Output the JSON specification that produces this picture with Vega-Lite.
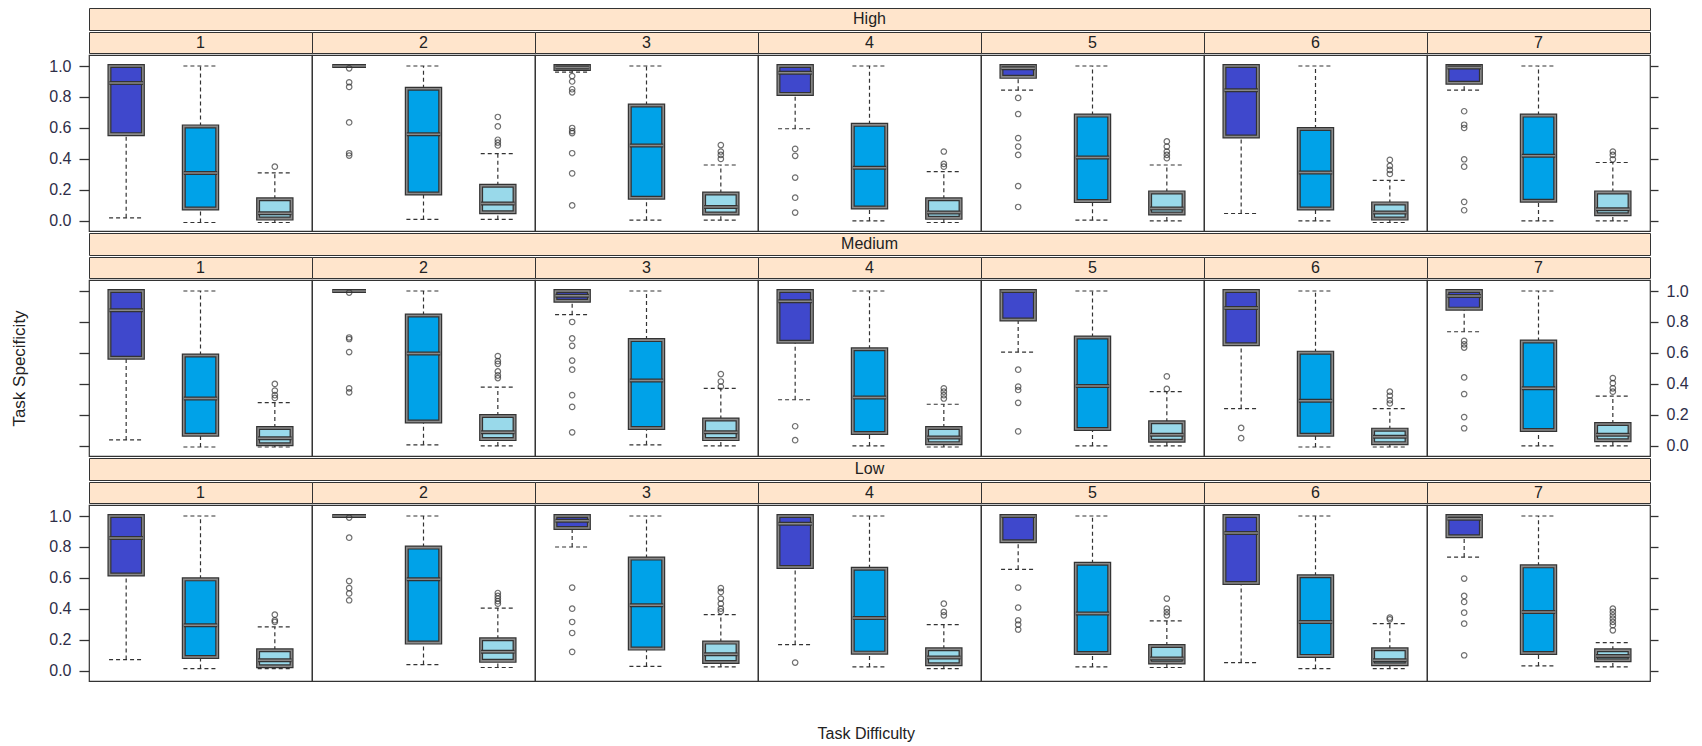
{
"$schema": "https://vega.github.io/schema/vega-lite/v6.json",
"padding": {"left": 10, "top": 7, "right": 0, "bottom": 0},
"spacing": 0,
"title": {"text": "Task Difficulty", "orient": "bottom", "anchor": "middle", "offset": 44, "dx": 17, "fontSize": 16, "font": "Liberation Sans", "fontWeight": "normal", "color": "#222"},
"config": {
  "view": {"stroke": "#333", "strokeWidth": 1.2},
  "axis": {"grid": false, "domain": false, "tickColor": "#333", "tickWidth": 1.3, "tickSize": 10, "labelPadding": 8, "labelFont": "Liberation Sans", "labelFontSize": 16, "labelColor": "#2e2e48", "titleFont": "Liberation Sans", "titleFontSize": 17, "titleFontWeight": "normal", "titleColor": "#222"},
  "text": {"font": "Liberation Sans", "fontSize": 16, "color": "#222"}
},
"datasets": {
  "bx": [
    {"r":"H","d":1,"g":"a","lo":0.02,"q1":0.56,"md":0.89,"q3":1,"hi":1},
    {"r":"H","d":1,"g":"b","lo":-0.01,"q1":0.08,"md":0.31,"q3":0.61,"hi":1},
    {"r":"H","d":1,"g":"c","lo":-0.01,"q1":0.015,"md":0.05,"q3":0.14,"hi":0.31},
    {"r":"H","d":1,"g":"c","o":0.35},
    {"r":"H","d":2,"g":"a","lo":1,"q1":1,"md":1,"q3":1,"hi":1},
    {"r":"H","d":2,"g":"a","o":0.985},{"r":"H","d":2,"g":"a","o":0.895},{"r":"H","d":2,"g":"a","o":0.865},{"r":"H","d":2,"g":"a","o":0.636},{"r":"H","d":2,"g":"a","o":0.437},{"r":"H","d":2,"g":"a","o":0.422},
    {"r":"H","d":2,"g":"b","lo":0.01,"q1":0.177,"md":0.56,"q3":0.853,"hi":1},
    {"r":"H","d":2,"g":"c","lo":0.01,"q1":0.056,"md":0.113,"q3":0.227,"hi":0.435},
    {"r":"H","d":2,"g":"c","o":0.671},{"r":"H","d":2,"g":"c","o":0.61},{"r":"H","d":2,"g":"c","o":0.524},{"r":"H","d":2,"g":"c","o":0.506},{"r":"H","d":2,"g":"c","o":0.487},
    {"r":"H","d":3,"g":"a","lo":0.96,"q1":0.98,"md":0.99,"q3":1,"hi":1},
    {"r":"H","d":3,"g":"a","o":0.935},{"r":"H","d":3,"g":"a","o":0.9},{"r":"H","d":3,"g":"a","o":0.85},{"r":"H","d":3,"g":"a","o":0.83},{"r":"H","d":3,"g":"a","o":0.6},{"r":"H","d":3,"g":"a","o":0.58},{"r":"H","d":3,"g":"a","o":0.567},{"r":"H","d":3,"g":"a","o":0.437},{"r":"H","d":3,"g":"a","o":0.307},{"r":"H","d":3,"g":"a","o":0.1},
    {"r":"H","d":3,"g":"b","lo":0.005,"q1":0.15,"md":0.487,"q3":0.745,"hi":1},
    {"r":"H","d":3,"g":"c","lo":0.005,"q1":0.048,"md":0.09,"q3":0.177,"hi":0.361},
    {"r":"H","d":3,"g":"c","o":0.49},{"r":"H","d":3,"g":"c","o":0.448},{"r":"H","d":3,"g":"c","o":0.426},{"r":"H","d":3,"g":"c","o":0.4},
    {"r":"H","d":4,"g":"a","lo":0.595,"q1":0.82,"md":0.957,"q3":1,"hi":1},
    {"r":"H","d":4,"g":"a","o":0.465},{"r":"H","d":4,"g":"a","o":0.42},{"r":"H","d":4,"g":"a","o":0.28},{"r":"H","d":4,"g":"a","o":0.15},{"r":"H","d":4,"g":"a","o":0.054},
    {"r":"H","d":4,"g":"b","lo":0,"q1":0.087,"md":0.344,"q3":0.62,"hi":1},
    {"r":"H","d":4,"g":"c","lo":-0.01,"q1":0.02,"md":0.054,"q3":0.14,"hi":0.318},
    {"r":"H","d":4,"g":"c","o":0.448},{"r":"H","d":4,"g":"c","o":0.368},{"r":"H","d":4,"g":"c","o":0.35},
    {"r":"H","d":5,"g":"a","lo":0.844,"q1":0.93,"md":0.985,"q3":1,"hi":1},
    {"r":"H","d":5,"g":"a","o":0.794},{"r":"H","d":5,"g":"a","o":0.69},{"r":"H","d":5,"g":"a","o":0.535},{"r":"H","d":5,"g":"a","o":0.48},{"r":"H","d":5,"g":"a","o":0.426},{"r":"H","d":5,"g":"a","o":0.225},{"r":"H","d":5,"g":"a","o":0.09},
    {"r":"H","d":5,"g":"b","lo":0.005,"q1":0.128,"md":0.41,"q3":0.68,"hi":1},
    {"r":"H","d":5,"g":"c","lo":0,"q1":0.048,"md":0.08,"q3":0.184,"hi":0.361},
    {"r":"H","d":5,"g":"c","o":0.513},{"r":"H","d":5,"g":"c","o":0.48},{"r":"H","d":5,"g":"c","o":0.448},{"r":"H","d":5,"g":"c","o":0.426},{"r":"H","d":5,"g":"c","o":0.405},
    {"r":"H","d":6,"g":"a","lo":0.048,"q1":0.545,"md":0.844,"q3":1,"hi":1},
    {"r":"H","d":6,"g":"b","lo":0,"q1":0.08,"md":0.312,"q3":0.593,"hi":1},
    {"r":"H","d":6,"g":"c","lo":-0.01,"q1":0.015,"md":0.054,"q3":0.113,"hi":0.262},
    {"r":"H","d":6,"g":"c","o":0.394},{"r":"H","d":6,"g":"c","o":0.355},{"r":"H","d":6,"g":"c","o":0.329},{"r":"H","d":6,"g":"c","o":0.303},
    {"r":"H","d":7,"g":"a","lo":0.844,"q1":0.892,"md":0.99,"q3":1,"hi":1},
    {"r":"H","d":7,"g":"a","o":0.708},{"r":"H","d":7,"g":"a","o":0.621},{"r":"H","d":7,"g":"a","o":0.6},{"r":"H","d":7,"g":"a","o":0.398},{"r":"H","d":7,"g":"a","o":0.35},{"r":"H","d":7,"g":"a","o":0.123},{"r":"H","d":7,"g":"a","o":0.069},
    {"r":"H","d":7,"g":"b","lo":0,"q1":0.13,"md":0.42,"q3":0.68,"hi":1},
    {"r":"H","d":7,"g":"c","lo":0,"q1":0.043,"md":0.076,"q3":0.184,"hi":0.377},
    {"r":"H","d":7,"g":"c","o":0.448},{"r":"H","d":7,"g":"c","o":0.426},{"r":"H","d":7,"g":"c","o":0.398},

    {"r":"M","d":1,"g":"a","lo":0.039,"q1":0.569,"md":0.875,"q3":1,"hi":1},
    {"r":"M","d":1,"g":"b","lo":-0.007,"q1":0.072,"md":0.306,"q3":0.584,"hi":1},
    {"r":"M","d":1,"g":"c","lo":-0.007,"q1":0.011,"md":0.05,"q3":0.116,"hi":0.28},
    {"r":"M","d":1,"g":"c","o":0.4},{"r":"M","d":1,"g":"c","o":0.357},{"r":"M","d":1,"g":"c","o":0.328},{"r":"M","d":1,"g":"c","o":0.31},
    {"r":"M","d":2,"g":"a","lo":1,"q1":1,"md":1,"q3":1,"hi":1},
    {"r":"M","d":2,"g":"a","o":0.99},{"r":"M","d":2,"g":"a","o":0.7},{"r":"M","d":2,"g":"a","o":0.69},{"r":"M","d":2,"g":"a","o":0.606},{"r":"M","d":2,"g":"a","o":0.372},{"r":"M","d":2,"g":"a","o":0.346},
    {"r":"M","d":2,"g":"b","lo":0.007,"q1":0.158,"md":0.597,"q3":0.842,"hi":1},
    {"r":"M","d":2,"g":"c","lo":0,"q1":0.044,"md":0.088,"q3":0.193,"hi":0.379},
    {"r":"M","d":2,"g":"c","o":0.58},{"r":"M","d":2,"g":"c","o":0.547},{"r":"M","d":2,"g":"c","o":0.53},{"r":"M","d":2,"g":"c","o":0.481},{"r":"M","d":2,"g":"c","o":0.455},{"r":"M","d":2,"g":"c","o":0.438},
    {"r":"M","d":3,"g":"a","lo":0.847,"q1":0.937,"md":0.97,"q3":1,"hi":1},
    {"r":"M","d":3,"g":"a","o":0.8},{"r":"M","d":3,"g":"a","o":0.694},{"r":"M","d":3,"g":"a","o":0.646},{"r":"M","d":3,"g":"a","o":0.551},{"r":"M","d":3,"g":"a","o":0.492},{"r":"M","d":3,"g":"a","o":0.328},{"r":"M","d":3,"g":"a","o":0.252},{"r":"M","d":3,"g":"a","o":0.088},
    {"r":"M","d":3,"g":"b","lo":0.007,"q1":0.116,"md":0.422,"q3":0.683,"hi":1},
    {"r":"M","d":3,"g":"c","lo":0,"q1":0.044,"md":0.088,"q3":0.171,"hi":0.372},
    {"r":"M","d":3,"g":"c","o":0.464},{"r":"M","d":3,"g":"c","o":0.416},{"r":"M","d":3,"g":"c","o":0.383},
    {"r":"M","d":4,"g":"a","lo":0.298,"q1":0.672,"md":0.934,"q3":1,"hi":1},
    {"r":"M","d":4,"g":"a","o":0.127},{"r":"M","d":4,"g":"a","o":0.037},
    {"r":"M","d":4,"g":"b","lo":0,"q1":0.083,"md":0.313,"q3":0.624,"hi":1},
    {"r":"M","d":4,"g":"c","lo":-0.007,"q1":0.018,"md":0.055,"q3":0.116,"hi":0.269},
    {"r":"M","d":4,"g":"c","o":0.372},{"r":"M","d":4,"g":"c","o":0.35},{"r":"M","d":4,"g":"c","o":0.328},{"r":"M","d":4,"g":"c","o":0.306},
    {"r":"M","d":5,"g":"a","lo":0.606,"q1":0.816,"md":1,"q3":1,"hi":1},
    {"r":"M","d":5,"g":"a","o":0.492},{"r":"M","d":5,"g":"a","o":0.383},{"r":"M","d":5,"g":"a","o":0.361},{"r":"M","d":5,"g":"a","o":0.278},{"r":"M","d":5,"g":"a","o":0.094},
    {"r":"M","d":5,"g":"b","lo":0,"q1":0.109,"md":0.387,"q3":0.7,"hi":1},
    {"r":"M","d":5,"g":"c","lo":0,"q1":0.033,"md":0.072,"q3":0.153,"hi":0.35},
    {"r":"M","d":5,"g":"c","o":0.449},{"r":"M","d":5,"g":"c","o":0.368},
    {"r":"M","d":6,"g":"a","lo":0.241,"q1":0.656,"md":0.89,"q3":1,"hi":1},
    {"r":"M","d":6,"g":"a","o":0.116},{"r":"M","d":6,"g":"a","o":0.05},
    {"r":"M","d":6,"g":"b","lo":-0.007,"q1":0.072,"md":0.291,"q3":0.602,"hi":1},
    {"r":"M","d":6,"g":"c","lo":-0.007,"q1":0.018,"md":0.059,"q3":0.105,"hi":0.241},
    {"r":"M","d":6,"g":"c","o":0.35},{"r":"M","d":6,"g":"c","o":0.324},{"r":"M","d":6,"g":"c","o":0.295},{"r":"M","d":6,"g":"c","o":0.274},
    {"r":"M","d":7,"g":"a","lo":0.737,"q1":0.886,"md":0.967,"q3":1,"hi":1},
    {"r":"M","d":7,"g":"a","o":0.678},{"r":"M","d":7,"g":"a","o":0.656},{"r":"M","d":7,"g":"a","o":0.635},{"r":"M","d":7,"g":"a","o":0.442},{"r":"M","d":7,"g":"a","o":0.335},{"r":"M","d":7,"g":"a","o":0.186},{"r":"M","d":7,"g":"a","o":0.114},
    {"r":"M","d":7,"g":"b","lo":0,"q1":0.103,"md":0.372,"q3":0.674,"hi":1},
    {"r":"M","d":7,"g":"c","lo":0,"q1":0.037,"md":0.072,"q3":0.142,"hi":0.322},
    {"r":"M","d":7,"g":"c","o":0.438},{"r":"M","d":7,"g":"c","o":0.405},{"r":"M","d":7,"g":"c","o":0.372},{"r":"M","d":7,"g":"c","o":0.35},

    {"r":"L","d":1,"g":"a","lo":0.073,"q1":0.622,"md":0.858,"q3":1,"hi":1},
    {"r":"L","d":1,"g":"b","lo":0.015,"q1":0.09,"md":0.295,"q3":0.591,"hi":1},
    {"r":"L","d":1,"g":"c","lo":0.015,"q1":0.03,"md":0.069,"q3":0.133,"hi":0.284},
    {"r":"L","d":1,"g":"c","o":0.363},{"r":"L","d":1,"g":"c","o":0.327},{"r":"L","d":1,"g":"c","o":0.316},
    {"r":"L","d":2,"g":"a","lo":1,"q1":1,"md":1,"q3":1,"hi":1},
    {"r":"L","d":2,"g":"a","o":0.99},{"r":"L","d":2,"g":"a","o":0.86},{"r":"L","d":2,"g":"a","o":0.58},{"r":"L","d":2,"g":"a","o":0.535},{"r":"L","d":2,"g":"a","o":0.5},{"r":"L","d":2,"g":"a","o":0.456},
    {"r":"L","d":2,"g":"b","lo":0.041,"q1":0.183,"md":0.591,"q3":0.796,"hi":1},
    {"r":"L","d":2,"g":"c","lo":0.022,"q1":0.065,"md":0.123,"q3":0.204,"hi":0.406},
    {"r":"L","d":2,"g":"c","o":0.503},{"r":"L","d":2,"g":"c","o":0.484},{"r":"L","d":2,"g":"c","o":0.467},{"r":"L","d":2,"g":"c","o":0.45},{"r":"L","d":2,"g":"c","o":0.434},
    {"r":"L","d":3,"g":"a","lo":0.8,"q1":0.923,"md":0.97,"q3":1,"hi":1},
    {"r":"L","d":3,"g":"a","o":0.538},{"r":"L","d":3,"g":"a","o":0.402},{"r":"L","d":3,"g":"a","o":0.316},{"r":"L","d":3,"g":"a","o":0.245},{"r":"L","d":3,"g":"a","o":0.123},
    {"r":"L","d":3,"g":"b","lo":0.03,"q1":0.144,"md":0.424,"q3":0.725,"hi":1},
    {"r":"L","d":3,"g":"c","lo":0.026,"q1":0.058,"md":0.108,"q3":0.183,"hi":0.363},
    {"r":"L","d":3,"g":"c","o":0.535},{"r":"L","d":3,"g":"c","o":0.51},{"r":"L","d":3,"g":"c","o":0.467},{"r":"L","d":3,"g":"c","o":0.434},{"r":"L","d":3,"g":"c","o":0.402},{"r":"L","d":3,"g":"c","o":0.385},
    {"r":"L","d":4,"g":"a","lo":0.17,"q1":0.671,"md":0.95,"q3":1,"hi":1},
    {"r":"L","d":4,"g":"a","o":0.054},
    {"r":"L","d":4,"g":"b","lo":0.026,"q1":0.118,"md":0.342,"q3":0.66,"hi":1},
    {"r":"L","d":4,"g":"c","lo":0.015,"q1":0.043,"md":0.086,"q3":0.14,"hi":0.299},
    {"r":"L","d":4,"g":"c","o":0.434},{"r":"L","d":4,"g":"c","o":0.381},{"r":"L","d":4,"g":"c","o":0.359},
    {"r":"L","d":5,"g":"a","lo":0.656,"q1":0.837,"md":1,"q3":1,"hi":1},
    {"r":"L","d":5,"g":"a","o":0.538},{"r":"L","d":5,"g":"a","o":0.409},{"r":"L","d":5,"g":"a","o":0.327},{"r":"L","d":5,"g":"a","o":0.299},{"r":"L","d":5,"g":"a","o":0.267},
    {"r":"L","d":5,"g":"b","lo":0.026,"q1":0.116,"md":0.37,"q3":0.692,"hi":1},
    {"r":"L","d":5,"g":"c","lo":0.022,"q1":0.054,"md":0.08,"q3":0.161,"hi":0.323},
    {"r":"L","d":5,"g":"c","o":0.467},{"r":"L","d":5,"g":"c","o":0.402},{"r":"L","d":5,"g":"c","o":0.38},{"r":"L","d":5,"g":"c","o":0.359},
    {"r":"L","d":6,"g":"a","lo":0.054,"q1":0.568,"md":0.89,"q3":1,"hi":1},
    {"r":"L","d":6,"g":"b","lo":0.015,"q1":0.097,"md":0.316,"q3":0.611,"hi":1},
    {"r":"L","d":6,"g":"c","lo":0.015,"q1":0.043,"md":0.069,"q3":0.14,"hi":0.305},
    {"r":"L","d":6,"g":"c","o":0.344},{"r":"L","d":6,"g":"c","o":0.333},
    {"r":"L","d":7,"g":"a","lo":0.735,"q1":0.869,"md":0.983,"q3":1,"hi":1},
    {"r":"L","d":7,"g":"a","o":0.596},{"r":"L","d":7,"g":"a","o":0.484},{"r":"L","d":7,"g":"a","o":0.445},{"r":"L","d":7,"g":"a","o":0.376},{"r":"L","d":7,"g":"a","o":0.305},{"r":"L","d":7,"g":"a","o":0.101},
    {"r":"L","d":7,"g":"b","lo":0.032,"q1":0.116,"md":0.38,"q3":0.675,"hi":1},
    {"r":"L","d":7,"g":"c","lo":0.026,"q1":0.069,"md":0.097,"q3":0.133,"hi":0.183},
    {"r":"L","d":7,"g":"c","o":0.402},{"r":"L","d":7,"g":"c","o":0.381},{"r":"L","d":7,"g":"c","o":0.359},{"r":"L","d":7,"g":"c","o":0.338},{"r":"L","d":7,"g":"c","o":0.316},{"r":"L","d":7,"g":"c","o":0.295},{"r":"L","d":7,"g":"c","o":0.262}
  ],
  "cols": [{"d":1},{"d":2},{"d":3},{"d":4},{"d":5},{"d":6},{"d":7}]
},
"vconcat": [
  {"data": {"values": [{"lab": "High"}]}, "width": 1561, "height": 22, "view": {"fill": "#FFE5CC", "stroke": "#333"}, "mark": "text", "encoding": {"text": {"field": "lab"}}},
  {"data": {"name": "cols"}, "facet": {"column": {"field": "d", "type": "ordinal", "header": null}}, "spacing": 0, "bounds": "flush",
   "spec": {"width": 223, "height": 21, "view": {"fill": "#FFE5CC", "stroke": "#333"}, "mark": "text", "encoding": {"text": {"field": "d", "type": "ordinal"}}}},
  {"data": {"name": "bx"}, "transform": [{"filter": "datum.r == 'H'"}], "facet": {"column": {"field": "d", "type": "ordinal", "header": null}}, "spacing": 0, "bounds": "flush",
   "spec": {"width": 223, "height": 176, "resolve": {"axis": {"y": "independent"}}, "layer": [
     {"transform": [{"filter": "isValid(datum.q1)"}], "mark": {"type": "rule", "strokeDash": [4, 3], "color": "#333", "strokeWidth": 1.2},
      "encoding": {"x": {"field": "g", "type": "nominal", "scale": {"domain": ["a","b","c"], "paddingInner": 0, "paddingOuter": 0}, "axis": null},
        "y": {"field": "q3", "type": "quantitative", "scale": {"domain": [-0.065, 1.071], "nice": false, "zero": false}, "axis": {"orient": "left", "values": [0,0.2,0.4,0.6,0.8,1], "format": ".1f", "title": null}}, "y2": {"field": "hi"}}},
     {"transform": [{"filter": "isValid(datum.q1)"}], "mark": {"type": "rule", "strokeDash": [4, 3], "color": "#333", "strokeWidth": 1.2},
      "encoding": {"x": {"field": "g", "type": "nominal", "axis": null},
        "y": {"field": "lo", "type": "quantitative", "axis": {"orient": "right", "values": [0,0.2,0.4,0.6,0.8,1], "labels": false, "tickSize": 8, "title": null}}, "y2": {"field": "q1"}}},
     {"transform": [{"filter": "isValid(datum.q1)"}], "mark": {"type": "rule", "strokeDash": [4, 3], "color": "#333", "strokeWidth": 1.2},
      "encoding": {"x": {"field": "g", "type": "nominal", "bandPosition": 0.27, "axis": null}, "x2": {"field": "g", "bandPosition": 0.73},
        "y": {"field": "hi", "type": "quantitative", "axis": null}}},
     {"transform": [{"filter": "isValid(datum.q1)"}], "mark": {"type": "rule", "strokeDash": [4, 3], "color": "#333", "strokeWidth": 1.2},
      "encoding": {"x": {"field": "g", "type": "nominal", "bandPosition": 0.27, "axis": null}, "x2": {"field": "g", "bandPosition": 0.73},
        "y": {"field": "lo", "type": "quantitative", "axis": null}}},
     {"transform": [{"filter": "isValid(datum.q1)"}], "mark": {"type": "bar", "width": {"band": 0.45}, "stroke": "#333", "strokeWidth": 4},
      "encoding": {"x": {"field": "g", "type": "nominal", "axis": null},
        "y": {"field": "q1", "type": "quantitative", "axis": null}, "y2": {"field": "q3"},
        "fill": {"field": "g", "type": "nominal", "scale": {"domain": ["a","b","c"], "range": ["#3F48CC", "#00A2E8", "#99D9EA"]}, "legend": null}}},
     {"transform": [{"filter": "isValid(datum.q1)"}], "mark": {"type": "bar", "width": {"band": 0.45}, "fillOpacity": 0, "stroke": "#8a8a8a", "strokeWidth": 1.6},
      "encoding": {"x": {"field": "g", "type": "nominal", "axis": null},
        "y": {"field": "q1", "type": "quantitative", "axis": null}, "y2": {"field": "q3"}}},
     {"transform": [{"filter": "isValid(datum.q1)"}], "mark": {"type": "rule", "color": "#333", "strokeWidth": 4},
      "encoding": {"x": {"field": "g", "type": "nominal", "bandPosition": 0.275, "axis": null}, "x2": {"field": "g", "bandPosition": 0.725},
        "y": {"field": "md", "type": "quantitative", "axis": null}}},
     {"transform": [{"filter": "isValid(datum.q1)"}], "mark": {"type": "rule", "color": "#8a8a8a", "strokeWidth": 1.5},
      "encoding": {"x": {"field": "g", "type": "nominal", "bandPosition": 0.275, "axis": null}, "x2": {"field": "g", "bandPosition": 0.725},
        "y": {"field": "md", "type": "quantitative", "axis": null}}},
     {"transform": [{"filter": "isValid(datum.o)"}], "mark": {"type": "point", "shape": "circle", "filled": false, "stroke": "#333", "strokeWidth": 1.2, "size": 30},
      "encoding": {"x": {"field": "g", "type": "nominal", "axis": null},
        "y": {"field": "o", "type": "quantitative", "axis": null}}}
   ]}},
  {"data": {"values": [{"lab": "Medium"}]}, "width": 1561, "height": 22, "view": {"fill": "#FFE5CC", "stroke": "#333"}, "mark": "text", "encoding": {"text": {"field": "lab"}}},
  {"data": {"name": "cols"}, "facet": {"column": {"field": "d", "type": "ordinal", "header": null}}, "spacing": 0, "bounds": "flush",
   "spec": {"width": 223, "height": 21, "view": {"fill": "#FFE5CC", "stroke": "#333"}, "mark": "text", "encoding": {"text": {"field": "d", "type": "ordinal"}}}},
  {"data": {"name": "bx"}, "transform": [{"filter": "datum.r == 'M'"}], "facet": {"column": {"field": "d", "type": "ordinal", "header": null}}, "spacing": 0, "bounds": "flush",
   "spec": {"width": 223, "height": 176, "resolve": {"axis": {"y": "independent"}}, "layer": [
     {"transform": [{"filter": "isValid(datum.q1)"}], "mark": {"type": "rule", "strokeDash": [4, 3], "color": "#333", "strokeWidth": 1.2},
      "encoding": {"x": {"field": "g", "type": "nominal", "scale": {"domain": ["a","b","c"], "paddingInner": 0, "paddingOuter": 0}, "axis": null},
        "y": {"field": "q3", "type": "quantitative", "scale": {"domain": [-0.065, 1.071], "nice": false, "zero": false}, "axis": {"orient": "left", "values": [0,0.2,0.4,0.6,0.8,1], "labels": false, "title": "Task Specificity", "titlePadding": 50}}, "y2": {"field": "hi"}}},
     {"transform": [{"filter": "isValid(datum.q1)"}], "mark": {"type": "rule", "strokeDash": [4, 3], "color": "#333", "strokeWidth": 1.2},
      "encoding": {"x": {"field": "g", "type": "nominal", "axis": null},
        "y": {"field": "lo", "type": "quantitative", "axis": {"orient": "right", "values": [0,0.2,0.4,0.6,0.8,1], "format": ".1f", "tickSize": 8, "title": null}}, "y2": {"field": "q1"}}},
     {"transform": [{"filter": "isValid(datum.q1)"}], "mark": {"type": "rule", "strokeDash": [4, 3], "color": "#333", "strokeWidth": 1.2},
      "encoding": {"x": {"field": "g", "type": "nominal", "bandPosition": 0.27, "axis": null}, "x2": {"field": "g", "bandPosition": 0.73},
        "y": {"field": "hi", "type": "quantitative", "axis": null}}},
     {"transform": [{"filter": "isValid(datum.q1)"}], "mark": {"type": "rule", "strokeDash": [4, 3], "color": "#333", "strokeWidth": 1.2},
      "encoding": {"x": {"field": "g", "type": "nominal", "bandPosition": 0.27, "axis": null}, "x2": {"field": "g", "bandPosition": 0.73},
        "y": {"field": "lo", "type": "quantitative", "axis": null}}},
     {"transform": [{"filter": "isValid(datum.q1)"}], "mark": {"type": "bar", "width": {"band": 0.45}, "stroke": "#333", "strokeWidth": 4},
      "encoding": {"x": {"field": "g", "type": "nominal", "axis": null},
        "y": {"field": "q1", "type": "quantitative", "axis": null}, "y2": {"field": "q3"},
        "fill": {"field": "g", "type": "nominal", "scale": {"domain": ["a","b","c"], "range": ["#3F48CC", "#00A2E8", "#99D9EA"]}, "legend": null}}},
     {"transform": [{"filter": "isValid(datum.q1)"}], "mark": {"type": "bar", "width": {"band": 0.45}, "fillOpacity": 0, "stroke": "#8a8a8a", "strokeWidth": 1.6},
      "encoding": {"x": {"field": "g", "type": "nominal", "axis": null},
        "y": {"field": "q1", "type": "quantitative", "axis": null}, "y2": {"field": "q3"}}},
     {"transform": [{"filter": "isValid(datum.q1)"}], "mark": {"type": "rule", "color": "#333", "strokeWidth": 4},
      "encoding": {"x": {"field": "g", "type": "nominal", "bandPosition": 0.275, "axis": null}, "x2": {"field": "g", "bandPosition": 0.725},
        "y": {"field": "md", "type": "quantitative", "axis": null}}},
     {"transform": [{"filter": "isValid(datum.q1)"}], "mark": {"type": "rule", "color": "#8a8a8a", "strokeWidth": 1.5},
      "encoding": {"x": {"field": "g", "type": "nominal", "bandPosition": 0.275, "axis": null}, "x2": {"field": "g", "bandPosition": 0.725},
        "y": {"field": "md", "type": "quantitative", "axis": null}}},
     {"transform": [{"filter": "isValid(datum.o)"}], "mark": {"type": "point", "shape": "circle", "filled": false, "stroke": "#333", "strokeWidth": 1.2, "size": 30},
      "encoding": {"x": {"field": "g", "type": "nominal", "axis": null},
        "y": {"field": "o", "type": "quantitative", "axis": null}}}
   ]}},
  {"data": {"values": [{"lab": "Low"}]}, "width": 1561, "height": 22, "view": {"fill": "#FFE5CC", "stroke": "#333"}, "mark": "text", "encoding": {"text": {"field": "lab"}}},
  {"data": {"name": "cols"}, "facet": {"column": {"field": "d", "type": "ordinal", "header": null}}, "spacing": 0, "bounds": "flush",
   "spec": {"width": 223, "height": 21, "view": {"fill": "#FFE5CC", "stroke": "#333"}, "mark": "text", "encoding": {"text": {"field": "d", "type": "ordinal"}}}},
  {"data": {"name": "bx"}, "transform": [{"filter": "datum.r == 'L'"}], "facet": {"column": {"field": "d", "type": "ordinal", "header": null}}, "spacing": 0, "bounds": "flush",
   "spec": {"width": 223, "height": 176, "resolve": {"axis": {"y": "independent"}}, "layer": [
     {"transform": [{"filter": "isValid(datum.q1)"}], "mark": {"type": "rule", "strokeDash": [4, 3], "color": "#333", "strokeWidth": 1.2},
      "encoding": {"x": {"field": "g", "type": "nominal", "scale": {"domain": ["a","b","c"], "paddingInner": 0, "paddingOuter": 0}, "axis": null},
        "y": {"field": "q3", "type": "quantitative", "scale": {"domain": [-0.065, 1.071], "nice": false, "zero": false}, "axis": {"orient": "left", "values": [0,0.2,0.4,0.6,0.8,1], "format": ".1f", "title": null}}, "y2": {"field": "hi"}}},
     {"transform": [{"filter": "isValid(datum.q1)"}], "mark": {"type": "rule", "strokeDash": [4, 3], "color": "#333", "strokeWidth": 1.2},
      "encoding": {"x": {"field": "g", "type": "nominal", "axis": null},
        "y": {"field": "lo", "type": "quantitative", "axis": {"orient": "right", "values": [0,0.2,0.4,0.6,0.8,1], "labels": false, "tickSize": 8, "title": null}}, "y2": {"field": "q1"}}},
     {"transform": [{"filter": "isValid(datum.q1)"}], "mark": {"type": "rule", "strokeDash": [4, 3], "color": "#333", "strokeWidth": 1.2},
      "encoding": {"x": {"field": "g", "type": "nominal", "bandPosition": 0.27, "axis": null}, "x2": {"field": "g", "bandPosition": 0.73},
        "y": {"field": "hi", "type": "quantitative", "axis": null}}},
     {"transform": [{"filter": "isValid(datum.q1)"}], "mark": {"type": "rule", "strokeDash": [4, 3], "color": "#333", "strokeWidth": 1.2},
      "encoding": {"x": {"field": "g", "type": "nominal", "bandPosition": 0.27, "axis": null}, "x2": {"field": "g", "bandPosition": 0.73},
        "y": {"field": "lo", "type": "quantitative", "axis": null}}},
     {"transform": [{"filter": "isValid(datum.q1)"}], "mark": {"type": "bar", "width": {"band": 0.45}, "stroke": "#333", "strokeWidth": 4},
      "encoding": {"x": {"field": "g", "type": "nominal", "axis": null},
        "y": {"field": "q1", "type": "quantitative", "axis": null}, "y2": {"field": "q3"},
        "fill": {"field": "g", "type": "nominal", "scale": {"domain": ["a","b","c"], "range": ["#3F48CC", "#00A2E8", "#99D9EA"]}, "legend": null}}},
     {"transform": [{"filter": "isValid(datum.q1)"}], "mark": {"type": "bar", "width": {"band": 0.45}, "fillOpacity": 0, "stroke": "#8a8a8a", "strokeWidth": 1.6},
      "encoding": {"x": {"field": "g", "type": "nominal", "axis": null},
        "y": {"field": "q1", "type": "quantitative", "axis": null}, "y2": {"field": "q3"}}},
     {"transform": [{"filter": "isValid(datum.q1)"}], "mark": {"type": "rule", "color": "#333", "strokeWidth": 4},
      "encoding": {"x": {"field": "g", "type": "nominal", "bandPosition": 0.275, "axis": null}, "x2": {"field": "g", "bandPosition": 0.725},
        "y": {"field": "md", "type": "quantitative", "axis": null}}},
     {"transform": [{"filter": "isValid(datum.q1)"}], "mark": {"type": "rule", "color": "#8a8a8a", "strokeWidth": 1.5},
      "encoding": {"x": {"field": "g", "type": "nominal", "bandPosition": 0.275, "axis": null}, "x2": {"field": "g", "bandPosition": 0.725},
        "y": {"field": "md", "type": "quantitative", "axis": null}}},
     {"transform": [{"filter": "isValid(datum.o)"}], "mark": {"type": "point", "shape": "circle", "filled": false, "stroke": "#333", "strokeWidth": 1.2, "size": 30},
      "encoding": {"x": {"field": "g", "type": "nominal", "axis": null},
        "y": {"field": "o", "type": "quantitative", "axis": null}}}
   ]}}
]
}
